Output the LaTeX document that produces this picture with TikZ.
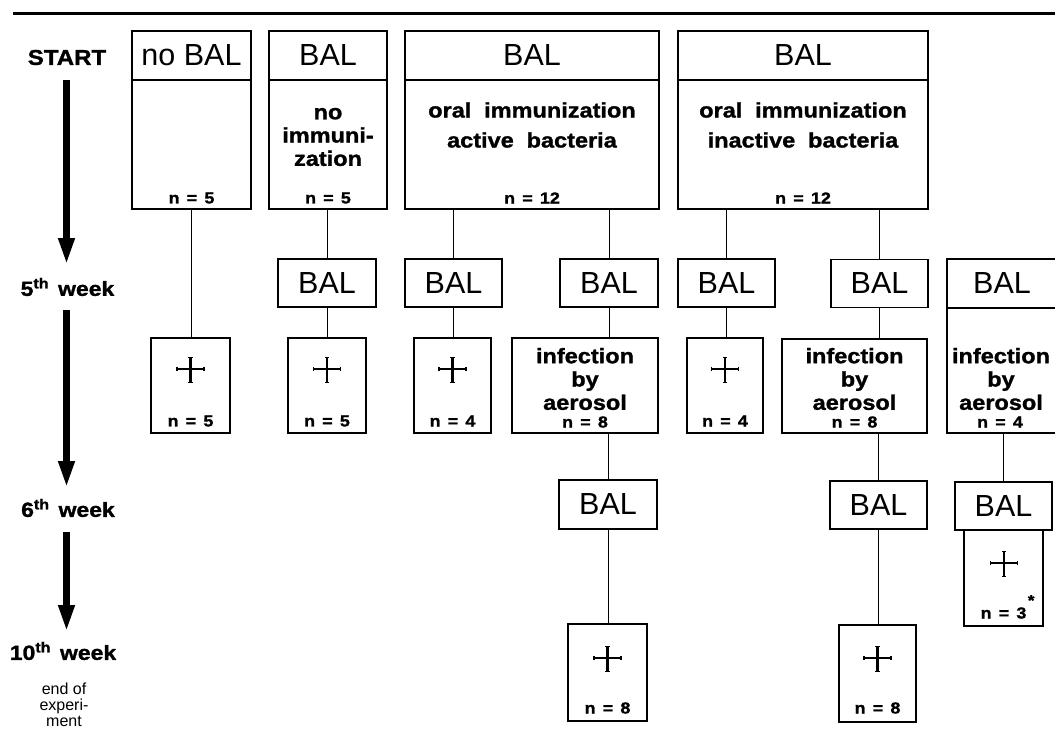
\documentclass[tikz,border=0pt]{standalone}
\usepackage{fontspec}
\setmainfont{Liberation Sans}
\newfontfamily\lblfont[FakeStretch=1.12,FakeBold=1.3]{Liberation Sans}
\usetikzlibrary{arrows.meta}
\newcommand\nval[1]{n\hspace{0.45em}=\hspace{0.45em}#1}
\tikzset{
  box/.style={draw, line width=1.2pt, inner sep=0pt, outer sep=0pt},
  hdr/.style={box, font=\fontsize{30.5}{30.5}\selectfont},
  btxt/.style={inner sep=0pt, align=center, font=\lblfont\bfseries\fontsize{21}{23.3}\selectfont},
  ntxt/.style={inner sep=0pt, font=\lblfont\bfseries\fontsize{16}{16}\selectfont},
  wk/.style={inner sep=0pt, align=center, font=\lblfont\bfseries\fontsize{20.5}{20.5}\selectfont},
  endtxt/.style={inner sep=0pt, align=center, font=\fontsize{16}{16}\selectfont},
  link/.style={line width=1pt},
  bigarrow/.style={line width=7pt, -{Triangle[length=27pt,width=15pt]}},
  crossmark/.pic={
    \draw[line width=2pt] (-14,0) -- (14,0);
    \draw[line width=2.6pt] (0,-12) -- (0,14);
    \draw[line width=1.3pt] (-13.4,-2.4) -- (-13.4,2.4) (13.4,-2.4) -- (13.4,2.4)
      (-2.2,-11.4) -- (2.2,-11.4) (-2.2,13.4) -- (2.2,13.4);
  }
}
\begin{document}
\begin{tikzpicture}[x=1pt,y=-1pt]
\useasboundingbox (0,0) rectangle (1055,749);
\fill[white] (0,0) rectangle (1055,749);
% top rule
\coordinate (ruleL) at (13,14);
\coordinate (ruleR) at (1056,14);
\draw[line width=3pt] (ruleL) -- (ruleR);

% ---------- time axis ----------
\node[wk, font=\lblfont\bfseries\fontsize{21.5}{21.5}\selectfont] (start) at (67,57.5) {START};
\node[wk] (w5) at (67.5,287) {5\textsuperscript{th}\hspace{9pt}week};
\node[wk] (w6) at (68,508) {6\textsuperscript{th}\hspace{9pt}week};
\node[wk] (w10) at (63,651) {10\textsuperscript{th}\hspace{9pt}week};
\node[endtxt] (endexp) at (64,705) {end of\\experi-\\ment};
\coordinate (a1s) at (66.5,80.5);  \coordinate (a1e) at (66.5,265);
\coordinate (a2s) at (66.5,310);   \coordinate (a2e) at (66.5,488);
\coordinate (a3s) at (66.5,532);   \coordinate (a3e) at (66.5,632);
\draw[bigarrow] (a1s) -- (a1e);
\draw[bigarrow] (a2s) -- (a2e);
\draw[bigarrow] (a3s) -- (a3e);

% ---------- START row ----------
\node[hdr, minimum width=119pt, minimum height=49pt] (Ah) at (191.5,55.5) {no BAL};
\node[box, minimum width=119pt, minimum height=129pt] (Ab) at (191.5,144.5) {};
\node[hdr, minimum width=118pt, minimum height=49pt] (Bh) at (328,55.5) {BAL};
\node[box, minimum width=118pt, minimum height=129pt] (Bb) at (328,144.5) {};
\node[hdr, minimum width=254pt, minimum height=49pt] (Ch) at (532,55.5) {BAL};
\node[box, minimum width=254pt, minimum height=129pt] (Cb) at (532,144.5) {};
\node[hdr, minimum width=250pt, minimum height=49pt] (Dh) at (803,55.5) {BAL};
\node[box, minimum width=250pt, minimum height=129pt] (Db) at (803,144.5) {};

\node[btxt] (tB) at (328,137) {no\\immuni-\\zation};
\node[btxt, font=\lblfont\bfseries\fontsize{21}{30}\selectfont] (tC) at (532,125) {oral\hspace{0.3em} immunization\\active\hspace{0.3em} bacteria};
\node[btxt, font=\lblfont\bfseries\fontsize{21}{30}\selectfont] (tD) at (803,125) {oral\hspace{0.3em} immunization\\inactive\hspace{0.3em} bacteria};
\node[ntxt] (nA) at (191.5,198) {\nval{5}};
\node[ntxt] (nB) at (328,198) {\nval{5}};
\node[ntxt] (nC) at (532,198) {\nval{12}};
\node[ntxt] (nD) at (803,198) {\nval{12}};

% ---------- 5th week ----------
\node[hdr, minimum width=98pt, minimum height=48pt] (B5) at (327,283) {BAL};
\node[hdr, minimum width=97pt, minimum height=48pt] (C5a) at (453.5,283) {BAL};
\node[hdr, minimum width=98pt, minimum height=48pt] (C5b) at (609,283) {BAL};
\node[hdr, minimum width=97pt, minimum height=48pt] (D5a) at (726.5,283) {BAL};
\node[hdr, minimum width=97pt, minimum height=48pt] (D5b) at (879.5,283.5) {BAL};
\node[hdr, minimum width=110pt, minimum height=49pt] (E5h) at (1002,283.5) {BAL};
\node[box, minimum width=110pt, minimum height=125pt] (E5b) at (1002,370.5) {};

% cross boxes
\node[box, minimum width=79pt, minimum height=95pt] (XA) at (190.5,385.5) {};
\node[box, minimum width=78pt, minimum height=95pt] (XB) at (327,385.5) {};
\node[box, minimum width=77pt, minimum height=95pt] (XC) at (452.5,385.5) {};
\node[box, minimum width=76pt, minimum height=95pt] (XD) at (725,385.5) {};
\pic at (190.5,369) {crossmark};
\pic at (327,369) {crossmark};
\pic at (452.5,369) {crossmark};
\pic at (725,369) {crossmark};
\node[ntxt] (nXA) at (190.5,421) {\nval{5}};
\node[ntxt] (nXB) at (327,421) {\nval{5}};
\node[ntxt] (nXC) at (452.5,421) {\nval{4}};
\node[ntxt] (nXD) at (725,421) {\nval{4}};

% infection boxes
\node[box, minimum width=146pt, minimum height=95pt] (IC) at (585,385.5) {};
\node[box, minimum width=145pt, minimum height=94pt] (ID) at (854.5,386) {};
\node[btxt] (tIC) at (585,379) {infection\\by\\aerosol};
\node[btxt] (tID) at (854.5,379) {infection\\by\\aerosol};
\node[btxt] (tIE) at (1001,379) {infection\\by\\aerosol};
\node[ntxt] (nIC) at (585,422) {\nval{8}};
\node[ntxt] (nID) at (854.5,422) {\nval{8}};
\node[ntxt] (nIE) at (1000,422) {\nval{4}};

% ---------- 6th week ----------
\node[hdr, minimum width=98pt, minimum height=49pt] (C6) at (608,504.5) {BAL};
\node[hdr, minimum width=97pt, minimum height=48pt] (D6) at (878.5,505) {BAL};
\node[hdr, minimum width=97pt, minimum height=48pt] (E6) at (1003.5,506) {BAL};
\node[box, minimum width=79pt, minimum height=96pt] (E7) at (1003.5,578) {};
\pic at (1004,563) {crossmark};
\node[ntxt] (nE7) at (1003.5,613) {\nval{3}\smash{\rlap{\hspace{1.5pt}\raisebox{13pt}{\fontsize{15}{15}\selectfont *}}}};

% ---------- 10th week ----------
\node[box, minimum width=79pt, minimum height=97pt] (XC10) at (607.5,672.5) {};
\node[box, minimum width=77pt, minimum height=97pt] (XD10) at (877.5,673.5) {};
\pic at (607.5,658) {crossmark};
\pic at (877.5,658) {crossmark};
\node[ntxt] (nXC10) at (607.5,708) {\nval{8}};
\node[ntxt] (nXD10) at (877.5,708) {\nval{8}};

% ---------- connectors ----------
\draw[link] (Ab.south) -- (Ab.south |- XA.north);
\draw[link] (Bb.south -| B5.north) -- (B5.north);
\draw[link] (B5.south) -- (B5.south |- XB.north);
\draw[link] (Cb.south -| C5a.north) -- (C5a.north);
\draw[link] (C5a.south) -- (C5a.south |- XC.north);
\draw[link] (Cb.south -| C5b.north) -- (C5b.north);
\draw[link] (C5b.south) -- (C5b.south |- IC.north);
\draw[link] (IC.south -| C6.north) -- (C6.north);
\draw[link] (C6.south) -- (C6.south |- XC10.north);
\draw[link] (Db.south -| D5a.north) -- (D5a.north);
\draw[link] (D5a.south) -- (D5a.south |- XD.north);
\draw[link] (Db.south -| D5b.north) -- (D5b.north);
\draw[link] (D5b.south) -- (D5b.south |- ID.north);
\draw[link] (ID.south -| D6.north) -- (D6.north);
\draw[link] (D6.south) -- (D6.south |- XD10.north);
\draw[link] (E5b.south -| E6.north) -- (E6.north);
\end{tikzpicture}
\end{document}
